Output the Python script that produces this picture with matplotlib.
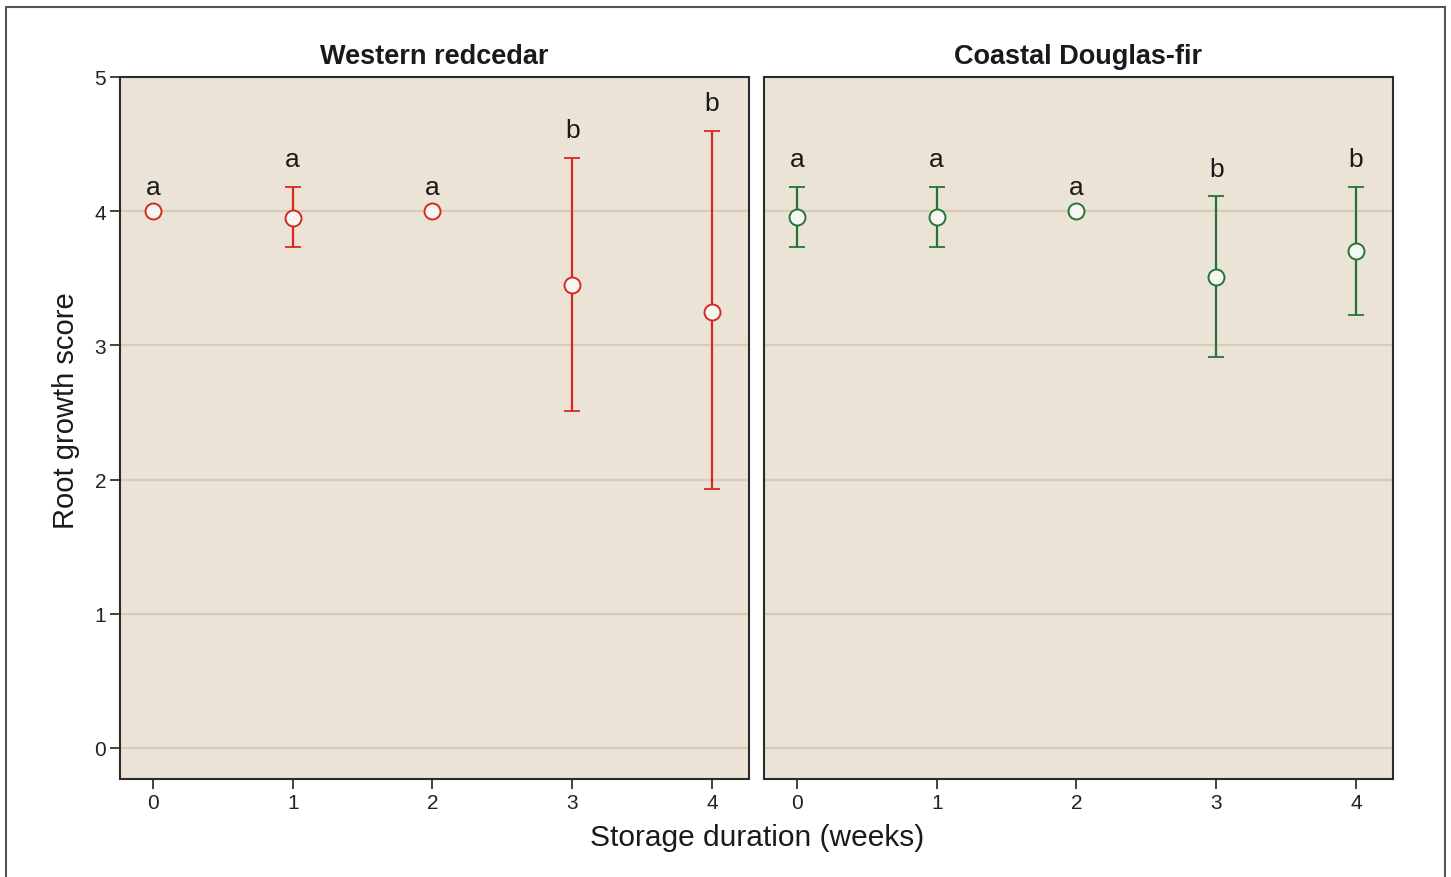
import matplotlib
matplotlib.use("Agg")
import matplotlib.pyplot as plt
from matplotlib.patches import Rectangle

plt.rcParams['font.family'] = ['Liberation Sans', 'DejaVu Sans']

weeks = [0, 1, 2, 3, 4]
species = ["Western redcedar", "Coastal Douglas-fir"]

cedar_mean = [4.00, 3.95, 4.00, 3.45, 3.25]
cedar_low = [4.00, 3.73, 4.00, 2.51, 1.93]
cedar_high = [4.00, 4.18, 4.00, 4.40, 4.60]
cedar_letters = ["a", "a", "a", "b", "b"]

fir_mean = [3.96, 3.96, 4.00, 3.51, 3.70]
fir_low = [3.73, 3.73, 4.00, 2.91, 3.23]
fir_high = [4.18, 4.18, 4.00, 4.11, 4.18]
fir_letters = ["a", "a", "a", "b", "b"]

colors = ["#d42a20", "#24743a"]
bg = "#ebe4d6"
grid_c = "#d6ccb8"

fig = plt.figure(figsize=(14.51, 8.78), dpi=100)
fig.patches.append(Rectangle((6/1451, -0.05), (1445-6)/1451, 1.05 - 8/878,
                             transform=fig.transFigure, fill=False,
                             edgecolor="#555555", linewidth=1.5))

W, H = 1451, 878
boxes = [(120, 78, 749, 780), (764, 78, 1393, 780)]
data = [(cedar_mean, cedar_low, cedar_high, cedar_letters),
        (fir_mean, fir_low, fir_high, fir_letters)]

axes = []
for i, (box, (m, lo, hi, let)) in enumerate(zip(boxes, data)):
    x0, y0, x1, y1 = box
    ax = fig.add_axes([x0/W, 1 - y1/H, (x1-x0)/W, (y1-y0)/H])
    ax.set_facecolor(bg)
    ax.set_xlim(-0.236, 4.265)
    ax.set_ylim(-0.231, 5.0)
    for yv in [0, 1, 2, 3, 4]:
        ax.axhline(yv, color=grid_c, linewidth=1.6, zorder=1)
    yerr = [[mm - l for mm, l in zip(m, lo)], [h - mm for mm, h in zip(m, hi)]]
    ax.errorbar(weeks, m, yerr=yerr, fmt='none', ecolor=colors[i],
                elinewidth=1.6, capsize=5.5, capthick=1.3, zorder=3)
    ax.plot(weeks, m, 'o', markersize=11.5, markerfacecolor="#f7f7f2",
            markeredgecolor=colors[i], markeredgewidth=1.4, zorder=4,
            linestyle='none')
    for xw, h, mm, t in zip(weeks, hi, m, let):
        off = 20 if h > mm else 17.5
        ax.annotate(t, (xw, h), xytext=(0, off), textcoords='offset points',
                    ha='center', va='center', fontsize=19, color="#1a1a1a")
    ax.set_xticks(weeks)
    ax.set_xticklabels([str(w) for w in weeks])
    ax.set_yticks([0, 1, 2, 3, 4, 5])
    ax.tick_params(axis='both', direction='out', length=7, width=1.2,
                   labelsize=15, colors="#222222", pad=3)
    if i == 1:
        ax.tick_params(axis='y', left=False, labelleft=False)
    for s in ax.spines.values():
        s.set_color("#2b2b2b")
        s.set_linewidth(1.5)
    ax.set_title(species[i], fontsize=19.5, fontweight='bold', pad=10, color="#1a1a1a")
    axes.append(ax)

axes[0].set_ylabel("Root growth score", fontsize=21, color="#1a1a1a")
axes[0].yaxis.set_label_coords(-0.064, 0.526)
fig.text(757/W, 1 - 838/H, "Storage duration (weeks)", ha='center', va='center',
         fontsize=21.5, color="#1a1a1a")

fig.savefig("out.png", dpi=100)
